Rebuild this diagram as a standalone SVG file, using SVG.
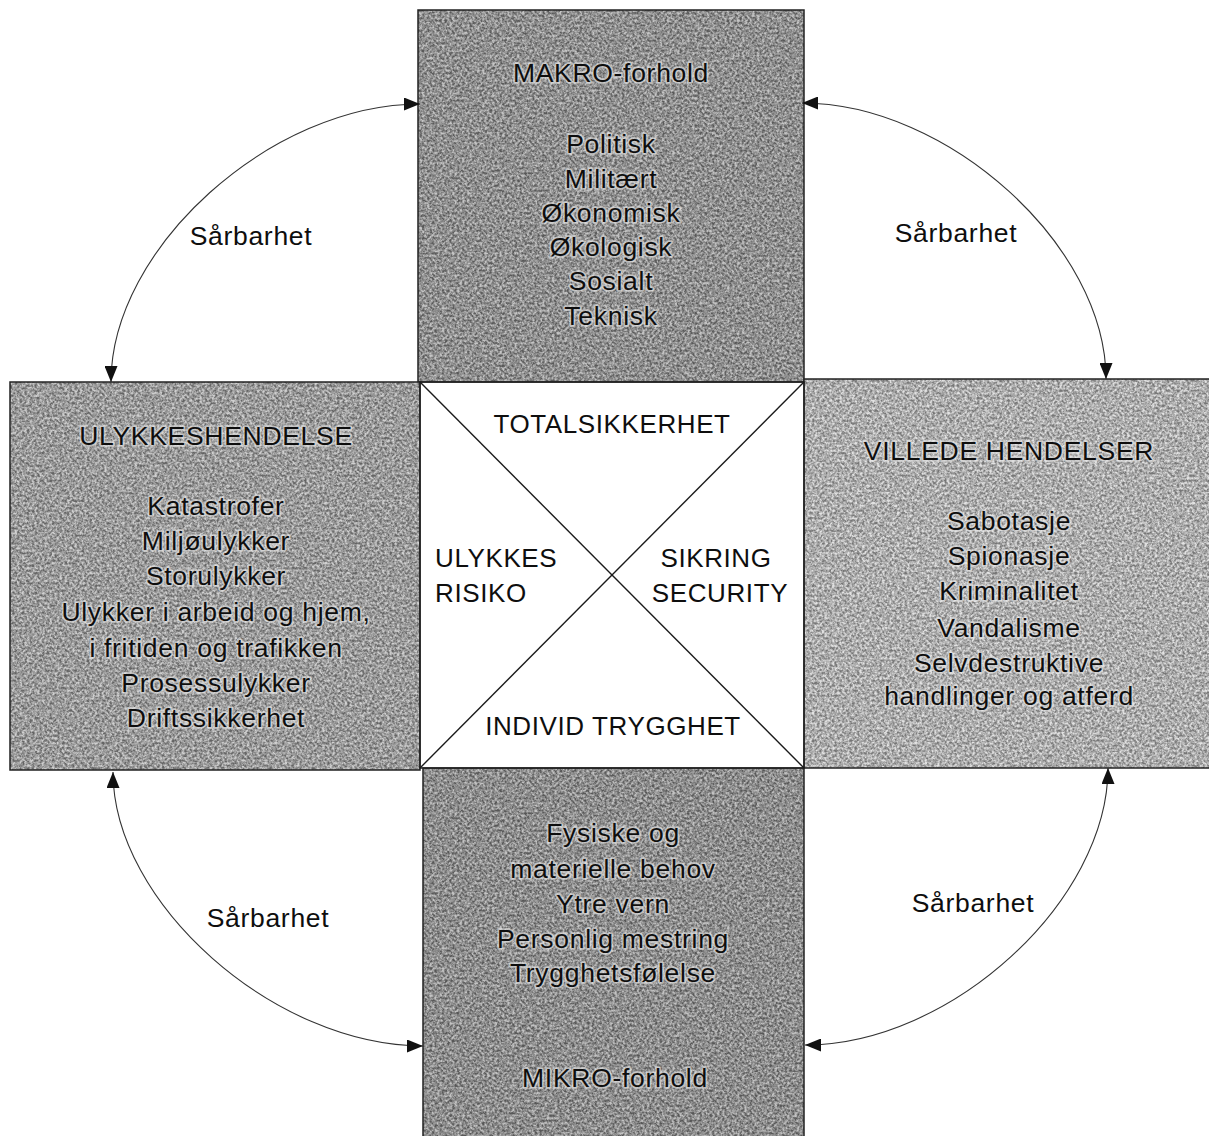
<svg xmlns="http://www.w3.org/2000/svg" width="1209" height="1136" viewBox="0 0 1209 1136">
  <style>
    text { font-family: "Liberation Sans", Arial, Helvetica, sans-serif; fill: #0e0e0e; }
    .box-text { font-size: 26.5px; letter-spacing: 0.7px; text-anchor: middle;
                paint-order: stroke; stroke: #e8e8e8; stroke-width: 3.4px; stroke-opacity: 0.6; stroke-linejoin: round; }
    .mid-text { font-size: 26px; letter-spacing: 0.6px; }
    .label { font-size: 26.5px; letter-spacing: 0.7px; text-anchor: middle; }
    .edge { fill: none; stroke: #222; stroke-width: 1.5; }
    .arc { fill: none; stroke: #333; stroke-width: 1.1; marker-start: url(#head); marker-end: url(#head); }
    .cross { stroke: #1a1a1a; stroke-width: 1.4; }
  </style>
  <defs>
    <!-- speckled print texture for the shaded boxes -->
    <filter id="grain" x="0" y="0" width="1" height="1" color-interpolation-filters="sRGB">
      <feTurbulence type="fractalNoise" baseFrequency="0.4" numOctaves="3" seed="7" result="noise"/>
      <feColorMatrix in="noise" type="matrix" values="2 0 0 0 -0.5  2 0 0 0 -0.5  2 0 0 0 -0.5  0 0 0 0 1" result="gray"/>
      <feComposite in="gray" in2="SourceGraphic" operator="arithmetic" k1="0" k2="0.42" k3="1" k4="-0.21" result="mix"/>
      <feComposite in="mix" in2="SourceGraphic" operator="in"/>
    </filter>
    <marker id="head" viewBox="0 0 16 13" refX="16" refY="6.5" markerWidth="16" markerHeight="13"
            markerUnits="userSpaceOnUse" orient="auto-start-reverse">
      <path d="M0,0 L16,6.5 L0,13 z" fill="#111"/>
    </marker>
  </defs>

  <rect width="1209" height="1136" fill="#ffffff"/>

  <!-- MAKRO (top) -->
  <g id="node-makro">
    <rect x="418" y="10" width="386" height="372" fill="#8f8f8f" filter="url(#grain)"/>
    <rect x="418" y="10" width="386" height="372" class="edge"/>
    <text class="box-text" x="611" y="82">MAKRO-forhold</text>
    <text class="box-text" x="611" y="153">Politisk</text>
    <text class="box-text" x="611" y="188">Militært</text>
    <text class="box-text" x="611" y="222">Økonomisk</text>
    <text class="box-text" x="611" y="256">Økologisk</text>
    <text class="box-text" x="611" y="290">Sosialt</text>
    <text class="box-text" x="611" y="325">Teknisk</text>
  </g>

  <!-- ULYKKESHENDELSE (left) -->
  <g id="node-ulykke">
    <rect x="10" y="382" width="410" height="388" fill="#9a9a9a" filter="url(#grain)"/>
    <rect x="10" y="382" width="410" height="388" class="edge"/>
    <text class="box-text" x="216" y="445">ULYKKESHENDELSE</text>
    <text class="box-text" x="216" y="515">Katastrofer</text>
    <text class="box-text" x="216" y="550">Miljøulykker</text>
    <text class="box-text" x="216" y="585">Storulykker</text>
    <text class="box-text" x="216" y="621">Ulykker i arbeid og hjem,</text>
    <text class="box-text" x="216" y="657">i fritiden og trafikken</text>
    <text class="box-text" x="216" y="692">Prosessulykker</text>
    <text class="box-text" x="216" y="727">Driftssikkerhet</text>
  </g>

  <!-- VILLEDE HENDELSER (right) -->
  <g id="node-villede">
    <rect x="804" y="379" width="420" height="389" fill="#acacac" filter="url(#grain)"/>
    <rect x="804" y="379" width="420" height="389" class="edge"/>
    <text class="box-text" x="1009" y="460">VILLEDE HENDELSER</text>
    <text class="box-text" x="1009" y="530">Sabotasje</text>
    <text class="box-text" x="1009" y="565">Spionasje</text>
    <text class="box-text" x="1009" y="600">Kriminalitet</text>
    <text class="box-text" x="1009" y="637">Vandalisme</text>
    <text class="box-text" x="1009" y="672">Selvdestruktive</text>
    <text class="box-text" x="1009" y="705">handlinger og atferd</text>
  </g>

  <!-- MIKRO (bottom) -->
  <g id="node-mikro">
    <rect x="423" y="768" width="381" height="380" fill="#8d8d8d" filter="url(#grain)"/>
    <rect x="423" y="768" width="381" height="380" class="edge"/>
    <text class="box-text" x="613" y="842">Fysiske og</text>
    <text class="box-text" x="613" y="878">materielle behov</text>
    <text class="box-text" x="613" y="913">Ytre vern</text>
    <text class="box-text" x="613" y="948">Personlig mestring</text>
    <text class="box-text" x="613" y="982">Trygghetsfølelse</text>
    <text class="box-text" x="615" y="1087">MIKRO-forhold</text>
  </g>

  <!-- centre square split by its diagonals -->
  <g id="node-total">
    <rect x="420" y="382" width="384" height="386" fill="#ffffff" class="edge"/>
    <line x1="420" y1="382" x2="804" y2="768" class="cross"/>
    <line x1="804" y1="382" x2="420" y2="768" class="cross"/>
    <text class="mid-text" x="612" y="433" text-anchor="middle">TOTALSIKKERHET</text>
    <text class="mid-text" x="435" y="567">ULYKKES</text>
    <text class="mid-text" x="435" y="602">RISIKO</text>
    <text class="mid-text" x="716" y="567" text-anchor="middle">SIKRING</text>
    <text class="mid-text" x="720" y="602" text-anchor="middle">SECURITY</text>
    <text class="mid-text" x="613" y="735" text-anchor="middle">INDIVID TRYGGHET</text>
  </g>

  <!-- curved two-way connectors between neighbouring boxes -->
  <g id="connectors">
    <path class="arc" d="M111,382 C111,248 271,104 420,104"/>
    <path class="arc" d="M802,103 C948,103 1106,246 1106,379"/>
    <path class="arc" d="M113,772 C113,903 274,1046 423,1046"/>
    <path class="arc" d="M1108,768 C1108,901 951,1045 805,1045"/>
    <text class="label" x="251" y="245">Sårbarhet</text>
    <text class="label" x="956" y="242">Sårbarhet</text>
    <text class="label" x="268" y="927">Sårbarhet</text>
    <text class="label" x="973" y="912">Sårbarhet</text>
  </g>
</svg>
